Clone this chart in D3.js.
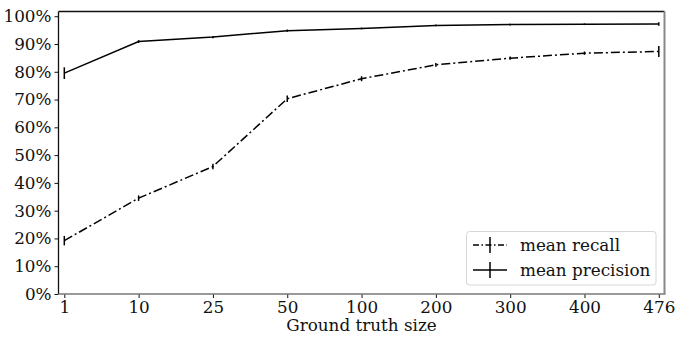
<!DOCTYPE html>
<html>
<head>
<meta charset="utf-8">
<script src="https://cdn.jsdelivr.net/npm/d3@7"></script>
<style>
  body { margin: 0; background: #fff; }
  svg text { font-family: "DejaVu Serif", serif; fill: #111; }
</style>
</head>
<body>
<svg id="chart" width="676" height="337"></svg>
<script>
const sizes = ['1', '10', '25', '50', '100', '200', '300', '400', '476'],
    recall = [19.2, 34.5, 45.9, 70.3, 77.5, 82.5, 84.9, 86.7, 87.3],
    recallErr = [1.7, 1.0, 1.0, 1.2, 0.9, 0.7, 0.6, 0.6, 2.0],
    precision = [79.5, 90.9, 92.5, 94.8, 95.6, 96.7, 97.0, 97.1, 97.2],
    precisionErr = [2.1, 0.5, 0.4, 0.4, 0.3, 0.3, 0.3, 0.3, 0.6],
    yTicks = [0, 10, 20, 30, 40, 50, 60, 70, 80, 90, 100];

const svg = d3.select('#chart');
const fontSize = 16.8;

const box = {left: 58.5, right: 664.5, top: 11.5, bottom: 294};

const x = d3.scalePoint()
    .domain(sizes)
    .range([64.3, 658.8]);

const y = d3.scaleLinear()
    .domain([0, 101.7])
    .range([box.bottom, box.top]);

// axes
const yAxis = svg.append('g')
    .attr('transform', `translate(${box.left},0)`)
    .call(d3.axisLeft(y).tickValues(yTicks).tickFormat(d => d + '%').tickSize(4).tickPadding(3));
yAxis.select('.domain').remove();
yAxis.selectAll('text').attr('font-size', fontSize).style('font-family', '"DejaVu Serif", serif');
yAxis.selectAll('line').attr('stroke', '#111');

const xAxis = svg.append('g')
    .attr('transform', `translate(0,${box.bottom})`)
    .call(d3.axisBottom(x).tickSize(4).tickPadding(3));
xAxis.select('.domain').remove();
xAxis.selectAll('text').attr('font-size', fontSize).style('font-family', '"DejaVu Serif", serif');
xAxis.selectAll('line').attr('stroke', '#111');

// spines
svg.append('line').attr('x1', box.left).attr('x2', box.right).attr('y1', box.top).attr('y2', box.top)
    .attr('stroke', '#111').attr('stroke-width', 1.3);
svg.append('line').attr('x1', box.left).attr('x2', box.left).attr('y1', box.top).attr('y2', box.bottom)
    .attr('stroke', '#111').attr('stroke-width', 1.3);
svg.append('line').attr('x1', box.left).attr('x2', box.right + 1).attr('y1', box.bottom).attr('y2', box.bottom)
    .attr('stroke', '#777').attr('stroke-width', 1.6);
svg.append('line').attr('x1', box.right).attr('x2', box.right).attr('y1', box.top).attr('y2', box.bottom)
    .attr('stroke', '#888').attr('stroke-width', 2);

svg.append('text')
    .attr('x', (box.left + box.right) / 2)
    .attr('y', 331)
    .attr('text-anchor', 'middle')
    .attr('font-size', fontSize)
    .text('Ground truth size');

// series
const series = [
    {name: 'mean recall', values: recall, err: recallErr, dash: '9,3,2,3'},
    {name: 'mean precision', values: precision, err: precisionErr, dash: null}
];

const line = d3.line()
    .x((d, i) => x(sizes[i]))
    .y(d => y(d));

series.forEach(function (s) {
    svg.append('path')
        .datum(s.values)
        .attr('d', line)
        .attr('fill', 'none')
        .attr('stroke', '#000')
        .attr('stroke-width', 1.5)
        .attr('stroke-dasharray', s.dash);

    svg.append('g').selectAll('line')
        .data(s.values)
        .join('line')
        .attr('x1', (d, i) => x(sizes[i]))
        .attr('x2', (d, i) => x(sizes[i]))
        .attr('y1', (d, i) => y(d - s.err[i]))
        .attr('y2', (d, i) => y(d + s.err[i]))
        .attr('stroke', '#000')
        .attr('stroke-width', 1.5);
});

// legend
const legend = svg.append('g');
legend.append('rect')
    .attr('x', 466.5).attr('y', 231.5)
    .attr('width', 189.5).attr('height', 53.5)
    .attr('rx', 3)
    .attr('fill', '#fff')
    .attr('stroke', '#d6d6d6');

series.forEach(function (s, i) {
    const ly = 245 + i * 25;
    legend.append('line')
        .attr('x1', 473).attr('x2', 507)
        .attr('y1', ly).attr('y2', ly)
        .attr('stroke', '#000').attr('stroke-width', 1.5)
        .attr('stroke-dasharray', s.dash ? '6,2.5,1.5,2.5' : null);
    legend.append('line')
        .attr('x1', 490).attr('x2', 490)
        .attr('y1', ly - 8).attr('y2', ly + 8)
        .attr('stroke', '#000').attr('stroke-width', 1.5);
    legend.append('text')
        .attr('x', 520).attr('y', ly + 5.5)
        .attr('font-size', fontSize)
        .text(s.name);
});
</script>
</body>
</html>
